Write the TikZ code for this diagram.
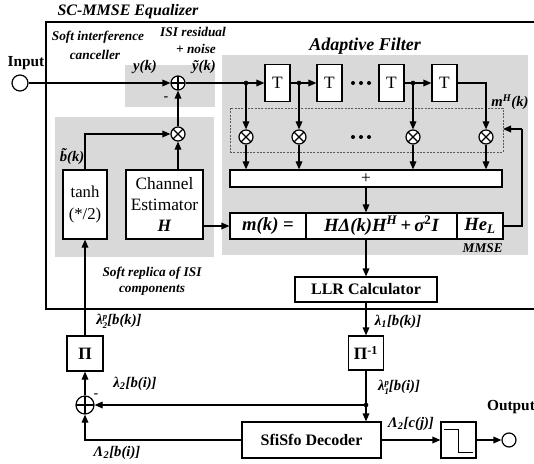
\documentclass[tikz,border=0pt]{standalone}
\usepackage{fontspec}
\setmainfont{Liberation Serif}
\usetikzlibrary{arrows.meta}
\newcommand\bist{\bfseries\itshape}
\newcommand\supsub[2]{\raisebox{-0.6ex}{\fontsize{6.5}{6.5}\selectfont\begin{tabular}[b]{@{}l@{}}#1\\[0.6pt]#2\end{tabular}}}
\begin{document}
\begin{tikzpicture}[x=0.75pt,y=-0.75pt,
  ln/.style={line width=0.9pt},
  arr/.style={line width=0.9pt,-{Triangle[length=6pt,width=5pt]}},
  blk/.style={draw,line width=0.9pt,fill=white,inner sep=0pt,align=center},
  region/.style={fill=gray!30,draw=none},
  lbl/.style={font=\fontsize{10}{11}\selectfont\bist,inner sep=0pt,align=center},
  mlbl/.style={font=\fontsize{11}{12}\selectfont\bist,inner sep=0pt},
  ttl/.style={font=\fontsize{12}{13}\selectfont\bist,inner sep=0pt},
  otimesn/.style={circle,draw,line width=0.9pt,fill=white,minimum size=10.5pt,inner sep=0pt,
    path picture={\draw[line width=0.9pt] (path picture bounding box.north west)--(path picture bounding box.south east)
      (path picture bounding box.north east)--(path picture bounding box.south west);}},
  oplusn/.style={circle,draw,line width=0.9pt,fill=white,minimum size=10.5pt,inner sep=0pt,
    path picture={\draw[line width=0.9pt] (path picture bounding box.north)--(path picture bounding box.south)
      (path picture bounding box.east)--(path picture bounding box.west);}},
  jdot/.style={circle,fill=black,inner sep=0pt,minimum size=3.5pt},
  sdot/.style={circle,fill=black,inner sep=0pt,minimum size=3pt},
  tbox/.style={blk,minimum width=18.75pt,minimum height=27.75pt,font=\fontsize{13}{14}\selectfont},
  port/.style={circle,draw,line width=0.9pt,fill=white,inner sep=0pt}
]
\useasboundingbox (0,0) rectangle (534,463);
% shaded regions
\fill[region] (125,65) rectangle (215,107);
\fill[region] (55,117) rectangle (214,257);
\fill[region] (222,55) rectangle (528,255);
% equalizer frame
\draw[line width=1.5pt] (545,22) -- (46,22) -- (46,309) -- (545,309);

% titles
\node[ttl] (eqt) at (128,12) {SC-MMSE Equalizer};
\node[ttl,font=\fontsize{13.5}{14}\selectfont\bist] (aft) at (365,46) {Adaptive Filter};
\node[lbl] (sic1) at (98,37) {Soft interference};
\node[lbl] (sic2) at (95,55) {canceller};
\node[lbl] (isi1) at (193,32) {ISI residual};
\node[lbl] (isi2) at (196,49) {+ noise};
\node[lbl,anchor=east] (mmset) at (503,248) {MMSE};
\node[lbl] (sr1) at (152,273) {Soft replica of ISI};
\node[lbl] (sr2) at (152,290) {components};

% ports
\node[port,minimum size=12pt] (inC) at (20,83) {};
\node[font=\fontsize{11.5}{12}\selectfont\bfseries,inner sep=0pt] (inT) at (26,63) {Input};
\node[port,minimum size=10.5pt] (outC) at (509,440) {};
\node[font=\fontsize{11.5}{12}\selectfont\bfseries,inner sep=0pt] (outT) at (511,407) {Output};

% canceller
\node[oplusn] (sum1) at (178,83) {};
\node[otimesn] (mult0) at (178,134) {};
\node[mlbl] (yk) at (145,67) {y(k)};
\node[mlbl] (ytk) at (204,67) {ỹ(k)};
\node[lbl] (minus1) at (166,99) {-};
\node[blk,minimum width=33pt,minimum height=51.75pt,font=\fontsize{12.5}{17}\selectfont] (tanh) at (85,204.5) {tanh\\(*/2)};
\node[blk,minimum width=57.75pt,minimum height=51.75pt,font=\fontsize{13}{15.5}\selectfont] (chan) at (164.5,204.5) {Channel\\Estimator\\\textbf{\textit{H}}};
\node[mlbl] (bk) at (72,157) {\~{b}(k)};

% adaptive filter
\node[tbox] (T1) at (277.5,83) {T};
\node[tbox] (T2) at (329.5,83) {T};
\node[tbox] (T3) at (391.5,83) {T};
\node[tbox] (T4) at (444.5,83) {T};
\node[jdot] (j1) at (246,83) {};
\node[jdot] (j2) at (299,83) {};
\node[jdot] (j3) at (413,83) {};
\node[sdot] (d1) at (353,83) {};
\node[sdot] (d2) at (361,83) {};
\node[sdot] (d3) at (369,83) {};
\node[draw=black!65,line width=0.6pt,dash pattern=on 1.5pt off 1pt,minimum width=204.75pt,minimum height=33pt,inner sep=0pt] (dbox) at (366.5,130) {};
\node[otimesn] (m1) at (246,137) {};
\node[otimesn] (m2) at (299,137) {};
\node[otimesn] (m3) at (413,137) {};
\node[otimesn] (m4) at (486,137) {};
\node[sdot] (e1) at (353,137) {};
\node[sdot] (e2) at (361,137) {};
\node[sdot] (e3) at (369,137) {};
\node[mlbl] (mH) at (510,102) {m\textsuperscript{H}(k)};
\node[blk,minimum width=204pt,minimum height=12.75pt,font=\fontsize{13}{13}\selectfont] (sbar) at (366,178.5) {+};
\node[blk,minimum width=57pt,minimum height=19.5pt,font=\fontsize{14}{14}\selectfont\bist] (mk1) at (268,226) {m(k) \textup{=}};
\node[blk,minimum width=113.25pt,minimum height=19.5pt,font=\fontsize{14}{14}\selectfont\bist] (mk2) at (381.5,226) {HΔ(k)H\textsuperscript{H}\,\textup{+}\,σ\textsuperscript{\textup{2}}I};
\node[blk,minimum width=34.5pt,minimum height=19.5pt,font=\fontsize{14}{14}\selectfont\bist] (mk3) at (480,226) {He\textsubscript{L}};
\coordinate (fbx) at (522,226);
\coordinate (fbin) at (503,129);

% LLR and outer loop
\node[blk,minimum width=106.5pt,minimum height=18.75pt,font=\fontsize{12}{12}\selectfont\bfseries] (llr) at (366,289.5) {LLR Calculator};
\node[blk,minimum width=26.25pt,minimum height=25.5pt,font=\fontsize{13}{13}\selectfont\bfseries] (pinv) at (366,353) {Π\textsuperscript{-1}};
\node[blk,minimum width=27pt,minimum height=26.25pt,font=\fontsize{13}{13}\selectfont\bfseries] (pi) at (85,353.5) {Π};
\node[blk,minimum width=104.25pt,minimum height=27pt,font=\fontsize{12}{12}\selectfont\bfseries] (dec) at (311.5,440) {SfiSfo Decoder};
\node[blk,minimum width=26.25pt,minimum height=27pt] (step) at (458.5,440) {};
\node[jdot] (jd) at (366,405) {};
\node[oplusn,minimum size=13.5pt] (sum2) at (85,405) {};
\node[lbl] (minus2) at (96,396) {-};
\node[mlbl] (l2pbk) at (119,322) {λ\supsub{p}{2}[b(k)]};
\node[mlbl] (l2bi) at (135,384) {λ\textsubscript{2}[b(i)]};
\node[mlbl] (L2bi) at (117,453) {Λ\textsubscript{2}[b(i)]};
\node[mlbl] (l1bk) at (398,322) {λ\textsubscript{1}[b(k)]};
\node[mlbl] (l1pbi) at (399,388) {λ\supsub{p}{1}[b(i)]};
\node[mlbl] (L2cj) at (411,424) {Λ\textsubscript{2}[c(j)]};

% step symbol
\draw[ln] ([xshift=3pt,yshift=-6pt]step.north west) -- ([xshift=0pt,yshift=-6pt]step.north) -- ([yshift=4.5pt]step.south) -- ([xshift=-3pt,yshift=4.5pt]step.south east);

% connectors
\draw[arr] (inC.east) -- (sum1.west);
\draw[ln] (sum1.east) -- (j1.center);
\draw[arr] (j1.center) -- (T1.west);
\draw[ln] (T1.east) -- (j2.center);
\draw[arr] (j2.center) -- (T2.west);
\draw[ln] (T3.east) -- (j3.center);
\draw[arr] (j3.center) -- (T4.west);
\draw[arr] (T4.east) -| (m4.north);
\draw[arr] (j1.center) -- (m1.north);
\draw[arr] (j2.center) -- (m2.north);
\draw[arr] (j3.center) -- (m3.north);
\foreach \m in {m1,m2,m3,m4}{\draw[arr] (\m.south) -- (\m.south |- sbar.north);}
\draw[arr] (sbar.south) -- (sbar.south |- mk2.north);
\draw[ln] (mk3.east) -- (fbx) -- (fbx |- fbin);
\draw[arr] (fbx |- fbin) -- (fbin);
\draw[arr] (llr.north |- mk2.south) -- (llr.north);
\draw[arr] (llr.south) -- (pinv.north);
\draw[ln] (pinv.south) -- (jd.center);
\draw[arr] (jd.center) -- (jd.center |- dec.north);
\draw[arr] (jd.center) -- (sum2.east);
\draw[arr] (dec.west) -| (sum2.south);
\draw[arr] (sum2.north) -- (pi.south);
\draw[arr] (pi.north) -- (tanh.south);
\draw[arr] (tanh.north) |- (mult0.west);
\draw[arr] (chan.north -| mult0.south) -- (mult0.south);
\draw[arr] (mult0.north) -- (sum1.south);
\draw[arr] (chan.east |- mk1.west) -- (mk1.west);
\draw[arr] (dec.east) -- (step.west);
\draw[arr] (step.east) -- (outC.west);
\end{tikzpicture}
\end{document}
